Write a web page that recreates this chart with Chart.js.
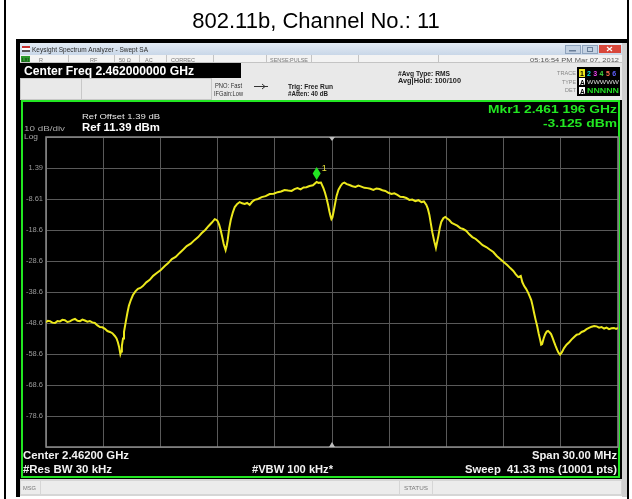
<!DOCTYPE html>
<html>
<head>
<meta charset="utf-8">
<script src="https://cdn.jsdelivr.net/npm/chart.js@4.4.1/dist/chart.umd.min.js"></script>
<style>
  html, body { margin: 0; padding: 0; background: #fff; }
  #wrap { width: 632px; height: 499px; position: relative; }
  canvas { display: block; }
</style>
</head>
<body>
<div id="wrap"><canvas id="c" width="632" height="499"></canvas></div>
<script>
// Swept spectrum trace, 802.11b channel 11 (centre 2462 MHz, span 30 MHz)
const freqMHz = [
  2447.00, 2447.10, 2447.21, 2447.33, 2447.47, 2447.60, 2447.73, 2447.86, 2447.99, 2448.12,
  2448.25, 2448.38, 2448.52, 2448.65, 2448.78, 2448.91, 2449.04, 2449.17, 2449.30, 2449.43,
  2449.56, 2449.70, 2449.83, 2449.96, 2450.09, 2450.22, 2450.35, 2450.48, 2450.61, 2450.70,
  2450.77, 2450.84, 2450.90, 2450.94, 2450.98, 2451.04, 2451.09, 2451.19, 2451.27, 2451.35,
  2451.45, 2451.56, 2451.69, 2451.82, 2451.95, 2452.08, 2452.26, 2452.44, 2452.62, 2452.81,
  2453.02, 2453.23, 2453.41, 2453.60, 2453.80, 2454.01, 2454.20, 2454.38, 2454.59, 2454.80,
  2454.98, 2455.17, 2455.35, 2455.53, 2455.70, 2455.85, 2455.93, 2456.00, 2456.08, 2456.16,
  2456.24, 2456.32, 2456.42, 2456.48, 2456.53, 2456.61, 2456.69, 2456.80, 2456.90, 2457.03,
  2457.16, 2457.29, 2457.42, 2457.55, 2457.68, 2457.81, 2457.94, 2458.12, 2458.31, 2458.52,
  2458.73, 2458.94, 2459.15, 2459.33, 2459.51, 2459.70, 2459.88, 2460.03, 2460.19, 2460.35,
  2460.51, 2460.66, 2460.82, 2461.00, 2461.196, 2461.30, 2461.42, 2461.55, 2461.63, 2461.71,
  2461.79, 2461.87, 2461.93, 2461.97, 2462.02, 2462.08, 2462.16, 2462.24, 2462.34, 2462.45,
  2462.55, 2462.65, 2462.78, 2462.92, 2463.07, 2463.23, 2463.38, 2463.54, 2463.70, 2463.86,
  2464.01, 2464.17, 2464.33, 2464.49, 2464.64, 2464.80, 2464.96, 2465.12, 2465.27, 2465.43,
  2465.58, 2465.74, 2465.90, 2466.06, 2466.21, 2466.37, 2466.53, 2466.69, 2466.82, 2466.95,
  2467.03, 2467.11, 2467.18, 2467.26, 2467.36, 2467.45, 2467.51, 2467.58, 2467.65, 2467.73,
  2467.84, 2467.94, 2468.04, 2468.15, 2468.28, 2468.41, 2468.57, 2468.73, 2468.88, 2469.04,
  2469.20, 2469.36, 2469.54, 2469.72, 2469.90, 2470.09, 2470.27, 2470.46, 2470.64, 2470.82,
  2471.00, 2471.19, 2471.35, 2471.51, 2471.64, 2471.77, 2471.90, 2471.98, 2472.08, 2472.18,
  2472.29, 2472.37, 2472.45, 2472.52, 2472.60, 2472.68, 2472.76, 2472.84, 2472.92, 2472.97,
  2473.02, 2473.10, 2473.18, 2473.26, 2473.33, 2473.41, 2473.49, 2473.57, 2473.65, 2473.73,
  2473.81, 2473.88, 2473.96, 2474.06, 2474.17, 2474.30, 2474.44, 2474.57, 2474.70, 2474.83,
  2474.96, 2475.09, 2475.22, 2475.35, 2475.48, 2475.62, 2475.75, 2475.88, 2476.01, 2476.14,
  2476.27, 2476.40, 2476.53, 2476.66, 2476.79, 2476.90, 2477.00
];
const levelDBm = [
  -48.4, -47.9, -48.0, -48.5, -48.6, -48.0, -48.1, -47.6, -47.7, -48.3,
  -48.1, -47.6, -47.3, -47.9, -48.0, -47.5, -47.8, -48.2, -48.0, -48.4,
  -48.6, -49.4, -49.9, -50.0, -50.5, -51.2, -51.5, -51.9, -52.8, -53.6,
  -54.8, -56.5, -58.6, -57.8, -56.0, -53.6, -51.5, -48.0, -45.3, -43.0,
  -41.2, -39.6, -38.4, -37.6, -37.3, -36.7, -35.5, -34.7, -33.4, -32.5,
  -31.5, -30.2, -29.3, -28.0, -27.3, -26.0, -24.9, -23.8, -23.0, -21.8,
  -20.9, -19.6, -18.6, -17.3, -16.2, -15.1, -15.3, -15.7, -16.9, -18.6,
  -20.8, -23.1, -25.1, -23.6, -21.8, -18.0, -15.4, -12.9, -11.2, -10.2,
  -9.6, -10.0, -10.2, -9.9, -10.5, -9.5, -8.9, -8.6, -8.0, -7.7,
  -7.0, -6.9, -6.4, -6.2, -5.7, -5.9, -6.0, -5.4, -5.1, -5.5,
  -4.9, -4.8, -4.4, -4.2, -3.125, -3.4, -3.3, -5.1, -6.5, -8.3,
  -10.4, -12.8, -14.3, -15.1, -14.6, -12.8, -10.2, -7.6, -5.6, -4.4,
  -3.6, -3.3, -3.8, -4.1, -4.5, -4.7, -4.3, -4.6, -5.0, -5.1,
  -5.3, -5.7, -5.2, -5.4, -5.8, -6.0, -6.6, -7.0, -6.8, -7.3,
  -7.9, -8.0, -8.3, -8.9, -8.8, -9.3, -9.0, -9.6, -9.4, -10.5,
  -11.8, -13.8, -16.4, -19.3, -22.2, -24.4, -22.6, -20.5, -18.0, -16.0,
  -14.8, -14.4, -14.9, -15.4, -16.3, -16.7, -17.2, -18.0, -18.3, -18.9,
  -20.0, -20.9, -21.5, -22.5, -23.5, -24.1, -24.9, -25.7, -27.0, -28.0,
  -28.9, -29.9, -30.9, -31.8, -32.9, -33.8, -33.4, -35.4, -36.7, -37.6,
  -38.9, -40.0, -41.2, -43.0, -45.4, -47.6, -49.6, -52.0, -54.1, -55.6,
  -55.4, -53.6, -52.2, -51.4, -51.2, -51.6, -52.2, -53.4, -54.8, -56.1,
  -57.3, -58.2, -58.8, -58.0, -56.7, -55.6, -54.8, -53.9, -53.1, -52.4,
  -52.2, -51.5, -51.2, -50.6, -50.2, -49.8, -49.6, -49.7, -50.1, -49.9,
  -50.4, -50.1, -50.6, -50.3, -50.2, -50.5, -50.2
];

// Marker 1 (peak search result)
const markerFreqMHz = [2461.196];
const markerLevelDBm = [-3.125];

// Graticule: 10 dB/div from Ref 11.39 dBm, 3 MHz/div
const yGridDBm = [-88.61, -78.61, -68.61, -58.61, -48.61, -38.61, -28.61, -18.61, -8.61, 1.39, 11.39];
const yGridLabels = ['', '-78.6', '-68.6', '-58.6', '-48.6', '-38.6', '-28.6', '-18.6', '-8.61', '1.39', ''];
const xGridMHz = [2447, 2450, 2453, 2456, 2459, 2462, 2465, 2468, 2471, 2474, 2477];

const FONT = "'Liberation Sans', Arial, sans-serif";
const GRID = '#595959';
const TRACE = 'rgb(236, 232, 28)';
const GREEN = '#22e622';

function txt(ctx, s, x, y, size, color, opts) {
  opts = opts || {};
  ctx.save();
  ctx.font = (opts.bold ? 'bold ' : '') + size + 'px ' + FONT;
  ctx.fillStyle = color;
  ctx.textBaseline = 'alphabetic';
  ctx.textAlign = opts.align || 'left';
  const m = ctx.measureText(s).width;
  const sx = opts.w ? opts.w / m : 1;
  ctx.translate(x, y);
  ctx.scale(sx, 1);
  ctx.fillText(s, 0, 0);
  ctx.restore();
}

const analyzerChrome = {
  id: 'analyzerChrome',
  beforeDraw(chart) {
    const c = chart.ctx;
    c.save();
    c.fillStyle = '#fff';
    c.fillRect(0, 0, 632, 499);
    // figure frame
    c.fillStyle = '#000';
    c.fillRect(4, 0, 2, 499);
    c.fillRect(627, 0, 2, 499);

    // window frame
    c.fillRect(16, 39, 612, 4);
    c.fillRect(16, 39, 4, 458);

    // title bar
    const g = c.createLinearGradient(0, 43, 0, 55);
    g.addColorStop(0, '#e4ecf5');
    g.addColorStop(1, '#c9d7e8');
    c.fillStyle = g;
    c.fillRect(20, 43, 607, 12);
    // app icon
    c.fillStyle = '#c83232'; c.fillRect(22, 46, 8, 2);
    c.fillStyle = '#ffffff'; c.fillRect(22, 48, 8, 2);
    c.fillStyle = '#555'; c.fillRect(22, 50, 8, 2);
    // window buttons
    c.fillStyle = '#c3d1e2'; c.strokeStyle = '#8ea3bd'; c.lineWidth = 1;
    c.fillRect(565, 45, 15, 8); c.strokeRect(565.5, 45.5, 15, 8);
    c.fillRect(582, 45, 15, 8); c.strokeRect(582.5, 45.5, 15, 8);
    c.fillStyle = '#d8473b'; c.fillRect(599, 45, 22, 8);
    c.strokeStyle = '#fff'; c.lineWidth = 1.2;
    c.beginPath(); c.moveTo(607, 47); c.lineTo(612, 51); c.moveTo(612, 47); c.lineTo(607, 51); c.stroke();
    c.fillStyle = '#6a7f99'; c.fillRect(569, 50, 7, 1.5);
    c.strokeStyle = '#6a7f99'; c.lineWidth = 1; c.strokeRect(587.5, 47.5, 5, 4);

    // status row
    c.fillStyle = '#f3f3f3';
    c.fillRect(20, 55, 607, 8);
    c.strokeStyle = '#c4c4c4'; c.lineWidth = 1;
    c.beginPath();
    [68, 114, 139, 166, 213, 266, 311, 358, 438].forEach(x => { c.moveTo(x + 0.5, 55); c.lineTo(x + 0.5, 63); });
    c.moveTo(20, 62.5); c.lineTo(622, 62.5);
    c.stroke();
    c.fillStyle = '#2c9a2c'; c.fillRect(21, 56, 9, 6);

    // settings panel
    c.fillStyle = '#e9e9e9';
    c.fillRect(20, 63, 607, 37);
    c.fillStyle = '#000';
    c.fillRect(20, 63, 221, 15);
    c.strokeStyle = '#c8c8c8';
    c.strokeRect(20.5, 78.5, 61, 21);
    c.strokeRect(81.5, 78.5, 130, 21);
    // trace / detector box
    c.fillStyle = '#000';
    c.fillRect(577, 67, 43, 29);

    // arrow symbol next to PNO
    c.strokeStyle = '#333'; c.lineWidth = 1;
    c.beginPath(); c.moveTo(254, 86.5); c.lineTo(268, 86.5); c.stroke();
    c.beginPath(); c.moveTo(262, 84); c.lineTo(265, 86.5); c.lineTo(262, 89); c.stroke();

    // screen
    c.fillStyle = '#000';
    c.fillRect(20, 100, 602, 379);
    c.strokeStyle = GREEN; c.lineWidth = 2;
    c.strokeRect(22, 101, 597, 376);
    c.fillStyle = '#cfcfcf';
    c.fillRect(622, 43, 5, 454);

    // message / status bar
    c.fillStyle = '#d6d6d6';
    c.fillRect(20, 479, 602, 17);
    c.fillStyle = '#ececec';
    c.fillRect(21, 481, 19, 13);
    c.fillRect(41, 481, 358, 13);
    c.fillRect(400, 481, 32, 13);
    c.fillRect(433, 481, 188, 13);
    c.restore();
  },
  beforeDatasetsDraw(chart) {
    const c = chart.ctx, a = chart.chartArea;
    const xs = chart.scales.x;
    c.save();
    c.strokeStyle = '#8a8a8a'; c.lineWidth = 1.5;
    c.strokeRect(a.left, a.top, a.right - a.left, a.bottom - a.top);
    // centre-frequency indicators
    const cx = xs.getPixelForValue(2462);
    c.fillStyle = '#bdbdbd';
    c.beginPath(); c.moveTo(cx - 3, a.top); c.lineTo(cx + 3, a.top); c.lineTo(cx, a.top + 4); c.fill();
    c.beginPath(); c.moveTo(cx - 3, a.bottom); c.lineTo(cx + 3, a.bottom); c.lineTo(cx, a.bottom - 5); c.fill();
    c.restore();
  },
  afterDatasetsDraw(chart) {
    const c = chart.ctx;
    const xs = chart.scales.x, ys = chart.scales.y;
    c.save();
    markerFreqMHz.forEach((f, i) => {
      const px = xs.getPixelForValue(f);
      const py = ys.getPixelForValue(markerLevelDBm[i]);
      c.fillStyle = GREEN;
      c.beginPath();
      c.moveTo(px, py - 2);
      c.lineTo(px + 4, py - 8.5);
      c.lineTo(px, py - 15);
      c.lineTo(px - 4, py - 8.5);
      c.closePath();
      c.fill();
      txt(c, String(i + 1), px + 5, py - 11, 9, '#e6e23a', {});
    });
    c.restore();
  },
  afterDraw(chart) {
    const c = chart.ctx;
    // window chrome text
    txt(c, 'Keysight Spectrum Analyzer - Swept SA', 32, 52, 6.5, '#2a2a2a', { w: 116 });
    txt(c, 'LXI', 22, 61.5, 5, '#102010', { w: 7 });
    txt(c, 'R', 39, 61.5, 5.5, '#777', {});
    txt(c, 'RF', 90, 61.5, 5.5, '#777', {});
    txt(c, '50 \u03A9', 119, 61.5, 5.5, '#777', {});
    txt(c, 'AC', 145, 61.5, 5.5, '#777', {});
    txt(c, 'CORREC', 171, 61.5, 5.5, '#777', { w: 24 });
    txt(c, 'SENSE:PULSE', 270, 61.5, 5.5, '#777', { w: 38 });
    txt(c, '05:16:54 PM Mar 07, 2012', 619, 61.5, 5.5, '#555', { align: 'right', w: 89 });

    txt(c, 'Center Freq 2.462000000 GHz', 24, 75, 12, '#fff', { bold: true, w: 170 });
    txt(c, 'PNO: Fast', 215, 88, 6.5, '#333', { w: 27 });
    txt(c, 'IFGain:Low', 214, 96, 6.5, '#333', { w: 29 });
    txt(c, 'Trig: Free Run', 288, 89, 7, '#222', { bold: true, w: 45 });
    txt(c, '#Atten: 40 dB', 288, 96, 7, '#222', { bold: true, w: 40 });
    txt(c, '#Avg Type: RMS', 398, 76, 7, '#222', { bold: true, w: 52 });
    txt(c, 'Avg|Hold: 100/100', 398, 83, 7, '#222', { bold: true, w: 63 });

    txt(c, 'TRACE', 576, 75, 5, '#888', { align: 'right', w: 19 });
    txt(c, 'TYPE', 576, 84, 5, '#888', { align: 'right', w: 14 });
    txt(c, 'DET', 576, 92, 5, '#888', { align: 'right', w: 11 });
    c.save();
    c.fillStyle = 'rgb(236, 232, 28)'; c.fillRect(579, 69, 6, 8);
    c.fillStyle = '#fff'; c.fillRect(579, 78, 6, 7); c.fillRect(579, 87, 6, 7);
    c.restore();
    txt(c, '1', 580, 76, 7, '#000', { bold: true });
    const tcol = ['#00e0e0', '#f040f0', '#40e040', '#ff7050', '#6060ff'];
    tcol.forEach((col, i) => txt(c, String(i + 2), 587 + i * 6.3, 76, 7, col, { bold: true }));
    txt(c, 'A', 580, 84.5, 6.5, '#000', { bold: true });
    txt(c, 'WWWWW', 587, 84, 5, '#ddd', { w: 32 });
    txt(c, 'A', 580, 93.5, 6.5, '#000', { bold: true });
    txt(c, 'NNNNN', 587, 93, 6.5, '#22dd22', { bold: true, w: 32 });

    // screen annotations
    txt(c, 'Ref Offset 1.39 dB', 82, 119, 7, '#e6e6e6', { w: 78 });
    txt(c, 'Ref 11.39 dBm', 82, 131, 10, '#fff', { bold: true, w: 78 });
    txt(c, '10 dB/div', 24, 131, 7.5, '#a8a8a8', { w: 41 });
    txt(c, 'Log', 24, 139, 7.5, '#a8a8a8', { w: 14 });
    txt(c, 'Mkr1 2.461 196 GHz', 617, 113, 11, GREEN, { bold: true, align: 'right', w: 129 });
    txt(c, '-3.125 dBm', 617, 127, 11, GREEN, { bold: true, align: 'right', w: 74 });
    txt(c, 'Center 2.46200 GHz', 23, 459, 10.5, '#f2f2f2', { bold: true, w: 106 });
    txt(c, '#Res BW 30 kHz', 23, 473, 10.5, '#f2f2f2', { bold: true, w: 89 });
    txt(c, '#VBW 100 kHz*', 252, 473, 10.5, '#f2f2f2', { bold: true, w: 81 });
    txt(c, 'Span 30.00 MHz', 617, 459, 10.5, '#f2f2f2', { bold: true, align: 'right', w: 85 });
    txt(c, 'Sweep  41.33 ms (10001 pts)', 617, 473, 10.5, '#f2f2f2', { bold: true, align: 'right', w: 152 });

    txt(c, 'MSG', 23, 490, 5.5, '#777', { w: 13 });
    txt(c, 'STATUS', 404, 490, 5.5, '#777', { w: 24 });

    // figure title
    txt(c, '802.11b, Channel No.: 11', 316, 28, 22, '#000', { align: 'center' });
  }
};

new Chart(document.getElementById('c'), {
  type: 'line',
  data: {
    datasets: [{
      data: freqMHz.map((f, i) => ({ x: f, y: levelDBm[i] })),
      borderColor: TRACE,
      borderWidth: 2,
      pointRadius: 0,
      tension: 0,
      fill: false
    }]
  },
  options: {
    responsive: false,
    devicePixelRatio: 1,
    animation: false,
    events: [],
    layout: { padding: { left: 0, top: 137, right: 14, bottom: 52 } },
    plugins: { legend: { display: false }, tooltip: { enabled: false }, title: { display: false } },
    scales: {
      x: {
        type: 'linear',
        min: 2447, max: 2477,
        afterBuildTicks: s => { s.ticks = xGridMHz.map(v => ({ value: v })); },
        afterFit: s => { s.height = 0; },
        ticks: { display: false },
        grid: { color: GRID, lineWidth: 1, drawTicks: false },
        border: { display: false }
      },
      y: {
        type: 'linear',
        min: -88.61, max: 11.39,
        afterBuildTicks: s => { s.ticks = yGridDBm.map(v => ({ value: v })); },
        afterFit: s => { s.width = 46; },
        ticks: {
          autoSkip: false,
          padding: 3,
          color: '#9a9a9a',
          font: { family: FONT, size: 7.5 },
          callback: (v, i) => yGridLabels[i]
        },
        grid: { color: GRID, lineWidth: 1, drawTicks: false },
        border: { display: false }
      }
    }
  },
  plugins: [analyzerChrome]
});
</script>
</body>
</html>
